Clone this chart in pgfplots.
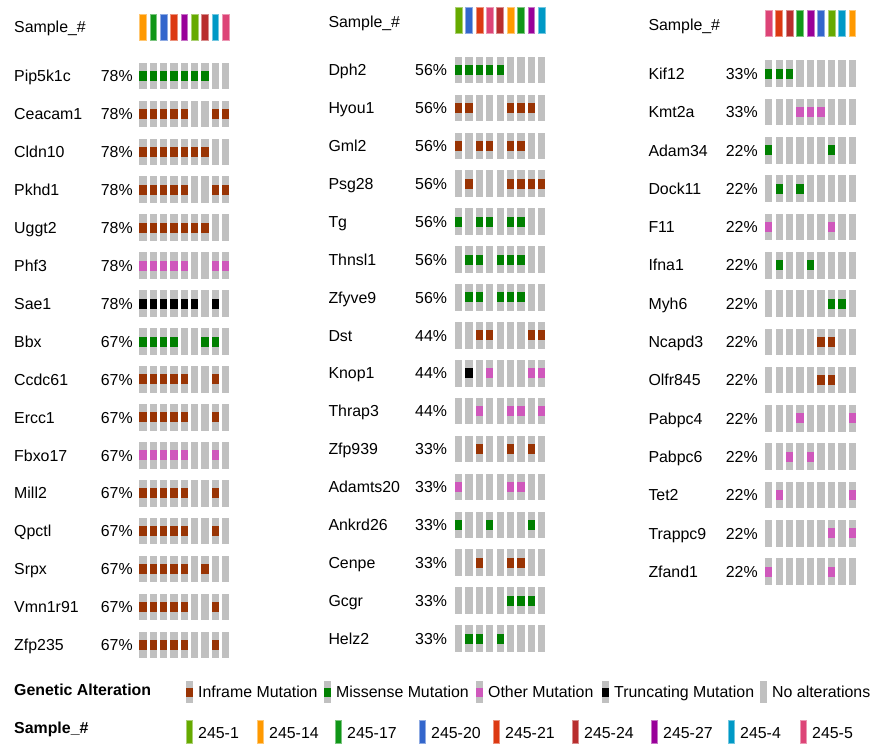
\documentclass[border=0pt]{standalone}
\usepackage{fontspec}
\setmainfont{Liberation Sans}
\usepackage{pgfplots}
\usepackage{pgfplotstable}
\pgfplotsset{compat=1.18}

\definecolor{noalt}{HTML}{C0C0C0}
\definecolor{inframe}{HTML}{993404}
\definecolor{missense}{HTML}{008000}
\definecolor{other}{HTML}{CF58BC}
\definecolor{trunc}{HTML}{000000}
\definecolor{s1}{HTML}{66AA00}
\definecolor{s14}{HTML}{FF9900}
\definecolor{s17}{HTML}{109618}
\definecolor{s20}{HTML}{3366CC}
\definecolor{s21}{HTML}{DC3912}
\definecolor{s24}{HTML}{B82E2E}
\definecolor{s27}{HTML}{990099}
\definecolor{s4}{HTML}{0099C6}
\definecolor{s5}{HTML}{DD4477}

\newcommand\lab{\fontsize{15.9}{18}\selectfont}

% cell marks: #1 prefix, #2 half width, #3 half height, #4 half height of the coloured part
\newcommand\defcells[4]{%
  \pgfdeclareplotmark{#1N}{\pgfsetfillcolor{noalt}\pgfpathrectangle{\pgfpoint{-#2}{-#3}}{\pgfpoint{2*#2}{2*#3}}\pgfusepathqfill}%
  \pgfdeclareplotmark{#1I}{\pgfuseplotmark{#1N}\pgfsetfillcolor{inframe}\pgfpathrectangle{\pgfpoint{-#2}{-#4}}{\pgfpoint{2*#2}{2*#4}}\pgfusepathqfill}%
  \pgfdeclareplotmark{#1M}{\pgfuseplotmark{#1N}\pgfsetfillcolor{missense}\pgfpathrectangle{\pgfpoint{-#2}{-#4}}{\pgfpoint{2*#2}{2*#4}}\pgfusepathqfill}%
  \pgfdeclareplotmark{#1O}{\pgfuseplotmark{#1N}\pgfsetfillcolor{other}\pgfpathrectangle{\pgfpoint{-#2}{-#4}}{\pgfpoint{2*#2}{2*#4}}\pgfusepathqfill}%
  \pgfdeclareplotmark{#1T}{\pgfuseplotmark{#1N}\pgfsetfillcolor{trunc}\pgfpathrectangle{\pgfpoint{-#2}{-#4}}{\pgfpoint{2*#2}{2*#4}}\pgfusepathqfill}%
}
\defcells{cc}{3.65pt}{13.3pt}{5pt}
\defcells{ll}{3.4pt}{11pt}{4.5pt}
\pgfdeclareplotmark{hbar}{\pgfpathrectangle{\pgfpoint{-3.4pt}{-12.9pt}}{\pgfpoint{6.8pt}{25.8pt}}\pgfusepathqfillstroke}
\pgfdeclareplotmark{lbar}{\pgfpathrectangle{\pgfpoint{-3.2pt}{-11.2pt}}{\pgfpoint{6.4pt}{22.4pt}}\pgfusepathqfillstroke}
\pgfdeclareplotmark{none0}{}

\pgfplotsset{
  altcells/.style={scatter, only marks, scatter src=explicit symbolic,
    scatter/classes={N={mark=#1N},I={mark=#1I},M={mark=#1M},O={mark=#1O},T={mark=#1T}}},
  samplebars/.style={scatter, only marks, scatter src=explicit symbolic, mark=#1, line width=0.7pt,
    scatter/classes={
      S1={fill=s1,draw=s1!55!white}, S14={fill=s14,draw=s14!55!white},
      S17={fill=s17,draw=s17!55!white}, S20={fill=s20,draw=s20!55!white},
      S21={fill=s21,draw=s21!55!white}, S24={fill=s24,draw=s24!55!white},
      S27={fill=s27,draw=s27!55!white}, S4={fill=s4,draw=s4!55!white},
      S5={fill=s5,draw=s5!55!white}}},
  textlabels/.style={only marks, mark=none0, point meta=explicit symbolic, nodes near coords,
    nodes near coords style={anchor=base west, inner sep=0pt, font=\lab, text=black}},
}

% gene, percent altered, alteration in each of the 9 samples (N none, I inframe, M missense, O other, T truncating)
\pgfplotstableread{
gene pct c1 c2 c3 c4 c5 c6 c7 c8 c9
Pip5k1c 78 M M M M M M M N N
Ceacam1 78 I I I I I N N I I
Cldn10 78 I I I I I I I N N
Pkhd1 78 I I I I I N N I I
Uggt2 78 I I I I I I I N N
Phf3 78 O O O O O N N O O
Sae1 78 T T T T T T N T N
Bbx 67 M M M M N N M M N
Ccdc61 67 I I I I I N N I N
Ercc1 67 I I I I I N N I N
Fbxo17 67 O O O O O N N O N
Mill2 67 I I I I I N N I N
Qpctl 67 I I I I I N N I N
Srpx 67 I I I I I N I N N
Vmn1r91 67 I I I I I N N I N
Zfp235 67 I I I I I N N I N
}\tL
\pgfplotstableread{
gene pct c1 c2 c3 c4 c5 c6 c7 c8 c9
Dph2 56 M M M M M N N N N
Hyou1 56 I I N N N I I I N
Gml2 56 I N I I N I I N N
Psg28 56 N I N N N I I I I
Tg 56 M N M M N M M N N
Thnsl1 56 N M M N M M M N N
Zfyve9 56 N M M N M M M N N
Dst 44 N N I I N N N I I
Knop1 44 N T N O N N N O O
Thrap3 44 N N O N N O O N O
Zfp939 33 N N I N N I N I N
Adamts20 33 O N N N N O O N N
Ankrd26 33 M N N M N N N M N
Cenpe 33 N N I N N I I N N
Gcgr 33 N N N N N M M M N
Helz2 33 N M M N M N N N N
}\tM
\pgfplotstableread{
gene pct c1 c2 c3 c4 c5 c6 c7 c8 c9
Kif12 33 M M M N N N N N N
Kmt2a 33 N N N O O O N N N
Adam34 22 M N N N N N M N N
Dock11 22 N M N M N N N N N
F11 22 O N N N N N O N N
Ifna1 22 N M N N M N N N N
Myh6 22 N N N N N N M M N
Ncapd3 22 N N N N N I I N N
Olfr845 22 N N N N N I I N N
Pabpc4 22 N N N O N N N N O
Pabpc6 22 N N O N O N N N N
Tet2 22 N O N N N N N N O
Trappc9 22 N N N N N N O N O
Zfand1 22 O N N N N N O N N
}\tR

% sample order of the columns in each panel
\pgfplotstableread{
col s
1 S14
2 S17
3 S20
4 S21
5 S27
6 S1
7 S24
8 S4
9 S5
}\hL
\pgfplotstableread{
col s
1 S1
2 S20
3 S21
4 S5
5 S24
6 S14
7 S17
8 S27
9 S4
}\hM
\pgfplotstableread{
col s
1 S5
2 S21
3 S24
4 S17
5 S27
6 S20
7 S1
8 S4
9 S14
}\hR

\pgfplotstableread[col sep=comma]{
x,t,label
189.5,I,Inframe Mutation
327.5,M,Missense Mutation
479.5,O,Other Mutation
605.5,T,Truncating Mutation
763.5,N,No alterations
}\legA
\pgfplotstableread[col sep=comma]{
x,s,label
189.5,S1,245-1
260.5,S14,245-14
338.5,S17,245-17
422.5,S20,245-20
496.5,S21,245-21
575.5,S24,245-24
654.5,S27,245-27
731.5,S4,245-4
803.5,S5,245-5
}\legB

% #1 data, #2 header, #3 x names, #4 x percent, #5 x first column, #6 column pitch, #7 y first row, #8 row pitch, #9 y header
\newcommand\panel[9]{%
  \addplot[samplebars=hbar] table[x expr=#5+(\thisrow{col}-1)*#6, y expr=#9, meta=s] {#2};
  \pgfplotsinvokeforeach{1,...,9}{%
    \addplot[altcells=cc] table[x expr=#5+(##1-1)*#6, y expr=#7+\coordindex*#8, meta=c##1] {#1};
  }
  \addplot[textlabels] table[x expr=#3, y expr=#7+\coordindex*#8+5.7, meta=gene] {#1};
  \addplot[textlabels, nodes near coords={\pgfplotspointmeta\%}] table[x expr=#4, y expr=#7+\coordindex*#8+5.7, meta=pct] {#1};
}

\begin{document}
\begin{tikzpicture}
\useasboundingbox (0,0) rectangle (873pt,-746pt);
\begin{axis}[
    at={(0pt,0pt)}, anchor=north west,
    scale only axis, width=873pt, height=746pt,
    xmin=0, xmax=873, ymin=0, ymax=746, y dir=reverse,
    hide axis, clip=false
]
\panel{\tL}{\hL}{14}{100.7}{143}{10.34}{76}{37.93}{27.2}
\panel{\tM}{\hM}{328.3}{415}{458.7}{10.375}{70}{37.9}{20.7}
\panel{\tR}{\hR}{648.3}{725.7}{768.7}{10.46}{73.7}{38.3}{23.7}

\node[anchor=base west, inner sep=0pt, font=\lab] at (axis cs:14,32.7) {Sample\_\#};
\node[anchor=base west, inner sep=0pt, font=\lab] at (axis cs:328.3,27.3) {Sample\_\#};
\node[anchor=base west, inner sep=0pt, font=\lab] at (axis cs:648.3,30) {Sample\_\#};

\addplot[altcells=ll] table[x=x, y expr=692, meta=t] {\legA};
\addplot[textlabels] table[x expr=\thisrow{x}+8.5, y expr=697.3, meta=label] {\legA};
\addplot[samplebars=lbar] table[x=x, y expr=732, meta=s] {\legB};
\addplot[textlabels] table[x expr=\thisrow{x}+8.5, y expr=738.3, meta=label] {\legB};

\node[anchor=base west, inner sep=0pt, font=\lab\bfseries] at (axis cs:14,695) {Genetic Alteration};
\node[anchor=base west, inner sep=0pt, font=\lab\bfseries] at (axis cs:14,733.3) {Sample\_\#};
\end{axis}
\end{tikzpicture}
\end{document}
